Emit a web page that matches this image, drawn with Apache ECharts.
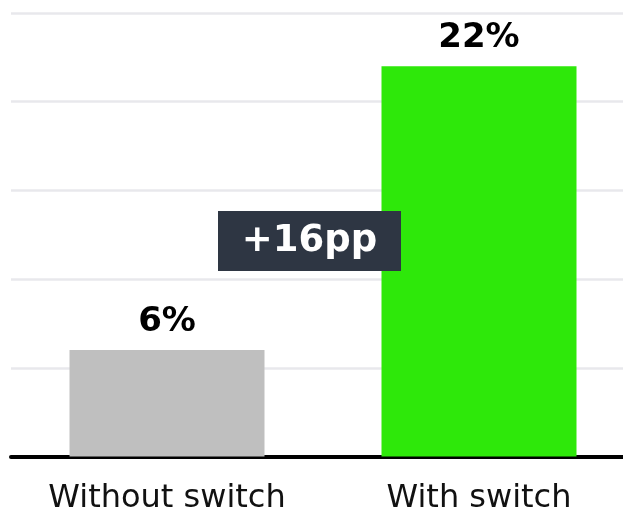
<!DOCTYPE html>
<html>
<head>
<meta charset="utf-8">
<script src="https://cdn.jsdelivr.net/npm/echarts@6/dist/echarts.min.js"></script>
<style>
  html, body { margin: 0; padding: 0; background: #fff; }
  #chart { width: 623px; height: 512px; }
</style>
</head>
<body>
<div id="chart"></div>
<script>
// data
const categories = ['Without switch', 'With switch']
const values = [6, 22]
const barColors = ['#bfbfbf', '#2ee80a']
const diffLabel = '+16pp'

const myChart = echarts.init(document.getElementById('chart'))

const option = {
  animation: false,
  grid: {
    left: 11,
    width: 624, // right bar area runs past the edge
    top: 13,
    bottom: 55.5,
    outerBoundsMode: 'none'
  },
  xAxis: {
    type: 'category',
    data: categories,
    axisLine: { lineStyle: { color: '#000', width: 4 } },
    axisTick: { show: false },
    axisLabel: {
      color: '#111',
      fontFamily: 'DejaVu Sans',
      fontSize: 32,
      margin: 26,
      hideOverlap: false
    }
  },
  yAxis: {
    type: 'value',
    min: 0,
    max: 25,
    interval: 5,
    axisLabel: { show: false },
    axisLine: { show: false },
    axisTick: { show: false },
    splitLine: { lineStyle: { color: '#e8e8ec', width: 2.5 } }
  },
  series: [
    {
      type: 'bar',
      barWidth: 195,
      data: values.map((v, i) => ({ value: v, itemStyle: { color: barColors[i] } })),
      label: {
        show: true,
        position: 'top',
        distance: 11,
        formatter: '{c}%',
        color: '#000',
        fontFamily: 'DejaVu Sans',
        fontWeight: 'bold',
        fontSize: 34
      }
    }
  ],
  // difference tag
  graphic: [
    {
      type: 'group',
      left: 218,
      top: 211,
      z: 100,
      children: [
        {
          type: 'rect',
          z: 100,
          shape: { x: 0, y: 0, width: 183, height: 60 },
          style: { fill: '#2e3643' }
        },
        {
          type: 'text',
          z: 101,
          x: 91.5,
          y: 30,
          style: {
            text: diffLabel,
            fill: '#fff',
            font: 'bold 37px "DejaVu Sans"',
            align: 'center',
            verticalAlign: 'middle'
          }
        }
      ]
    }
  ]
}

myChart.setOption(option)
</script>
</body>
</html>
